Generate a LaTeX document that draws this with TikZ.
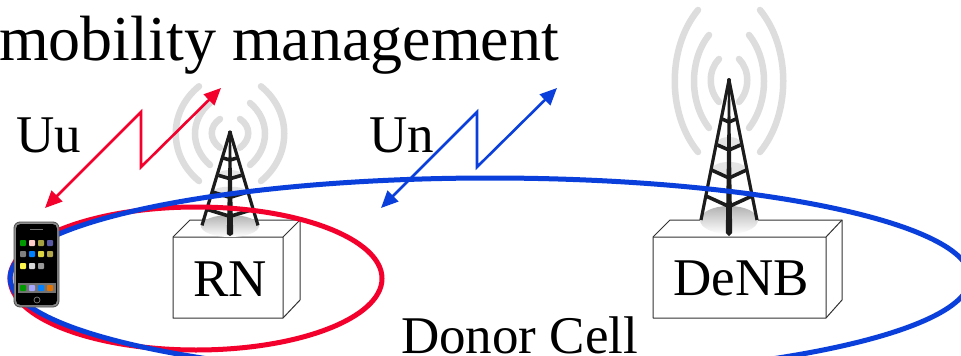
\documentclass[tikz,border=0pt]{standalone}
\usepackage{fontspec}
\setmainfont{Liberation Serif}
\usetikzlibrary{arrows.meta}
\definecolor{myred}{HTML}{F4002D}
\definecolor{myblue}{HTML}{0A3FDC}
\definecolor{wavegray}{HTML}{DDDDDD}
\definecolor{towerblack}{HTML}{1C1C1C}
\tikzset{
  x=1pt,y=-1pt,
  wave/.style={draw=wavegray,line width=6.5pt,line cap=round},
  towerline/.style={draw=towerblack,line width=3.2pt,line join=round},
  boxedge/.style={draw=black!80,line width=1pt,line join=round},
  redlink/.style={draw=myred,line width=2.6pt,line join=miter,{Triangle[length=17pt,width=15pt,fill=myred]}-{Triangle[length=17pt,width=15pt,fill=myred]}},
  bluelink/.style={draw=myblue,line width=2.6pt,line join=miter,{Triangle[length=17pt,width=15pt,fill=myblue]}-{Triangle[length=17pt,width=15pt,fill=myblue]}},
  cell/.style={line width=5pt},
  lab/.style={inner sep=0pt,anchor=base west,text=black},
  icon/.style={inner sep=0pt,minimum size=6pt,rounded corners=0.8pt},
  pics/antenna/.style={code={
    \foreach \s in {-1,1}{
      \draw[wave] (\s*10,-21) .. controls (\s*21,-10) and (\s*21,10) .. (\s*10,22);
      \draw[wave] (\s*20,-45) .. controls (\s*40,-20) and (\s*40,22) .. (\s*20,48);
      \draw[wave] (\s*31,-70) .. controls (\s*62,-32) and (\s*62,34) .. (\s*31,72);
    }
  }},
  pics/mast/.style={code={
    \fill[black!10] (0,62) ellipse[x radius=11,y radius=5];
    \fill[black!10] (0,88) ellipse[x radius=16,y radius=6];
    \draw[towerline] (-28,140) -- (0,0) -- (28,140);
    \fill[towerblack] (-1,3) -- (1,3) -- (3.2,153) -- (0,156) -- (-3.2,153) -- cycle;
    \foreach \yy/\w/\d in {39/7/3,65/11.5/5,90/17.5/8,116/23/10.5}{
      \draw[towerline,line width=3.6pt] (-\w,\yy) -- (0,\yy+\d) -- (\w,\yy);
    }
    \fill[towerblack] (0,0) circle[radius=2pt];
  }}
}
\begin{document}
\begin{tikzpicture}
\useasboundingbox (0,0) rectangle (961,356);
\clip (0,0) rectangle (961,356);
\fill[white] (0,0) rectangle (961,356);

% antennas' waves
\pic[yscale=0.667] at (230,133) {antenna};
\pic at (729,80) {antenna};

% boxes
\coordinate (rnA) at (173,237);
\coordinate (rnB) at (283,237);
\coordinate (rnC) at (283,318);
\coordinate (rnD) at (173,318);
\draw[boxedge,fill=white] (rnA) -- (190,220) -- (300,220) -- (300,300) -- (rnC) -- (rnD) -- cycle;
\draw[boxedge] (rnA) -- (rnB) -- (rnC) (rnB) -- (300,220);
\coordinate (deA) at (653,237);
\coordinate (deB) at (826,237);
\coordinate (deC) at (826,318);
\coordinate (deD) at (653,318);
\draw[boxedge,fill=white] (deA) -- (670,220) -- (842,220) -- (842,300) -- (deC) -- (deD) -- cycle;
\draw[boxedge] (deA) -- (deB) -- (deC) (deB) -- (842,220);

% shadows under masts
\shade[top color=black!30,bottom color=white] (230,226) ellipse[x radius=29,y radius=11];
\shade[top color=black!30,bottom color=white] (729,220) ellipse[x radius=29,y radius=14];

% masts
\pic[yscale=0.667] at (230,132) {mast};
\pic at (729,80) {mast};

% labels
\node[lab,font=\fontsize{64}{70}\selectfont] (title) at (-1,60) {mobility management};
\node[lab,font=\fontsize{53}{60}\selectfont] (uu) at (16,152) {Uu};
\node[lab,font=\fontsize{53}{60}\selectfont] (un) at (369,152) {Un};
\node[lab,font=\fontsize{53}{60}\selectfont] (rn) at (193,296) {RN};
\node[lab,font=\fontsize{53}{60}\selectfont] (denb) at (673,295) {DeNB};
\node[lab,font=\fontsize{53}{60}\selectfont] (donor) at (401,353) {Donor Cell};

% cells
\draw[cell,draw=myred] (196,278.5) ellipse[x radius=186,y radius=71.5];
\draw[cell,draw=myblue] (490,278) ellipse[x radius=480,y radius=100];

% links
\coordinate (uA) at (45,208);
\coordinate (uB) at (141,112);
\coordinate (uC) at (141,167);
\coordinate (uD) at (221,88);
\draw[redlink] (uA) -- (uB) -- (uC) -- (uD);
\coordinate (nA) at (381,208);
\coordinate (nB) at (477,112);
\coordinate (nC) at (477,167);
\coordinate (nD) at (557,88);
\draw[bluelink] (nA) -- (nB) -- (nC) -- (nD);

% phone
\node[draw=black!70,line width=0.8pt,fill=black!45,rounded corners=6pt,minimum width=45pt,minimum height=85pt,inner sep=0pt] (phone) at (36.5,264.5) {};
\node[fill=black,rounded corners=4.5pt,minimum width=41pt,minimum height=81pt,inner sep=0pt] (face) at (36.5,264.5) {};
\fill[black!55] (30,228.5) rectangle (43,230);
\fill[black!55] (17.5,283) rectangle (55.5,293);
\node[icon,fill=green!60!black] at (23,243) {};
\node[icon,fill=red!20!white] at (32,243) {};
\node[icon,fill=yellow!60!black] at (41,243) {};
\node[icon,fill=blue!30!gray] at (50,243) {};
\node[icon,fill=gray] at (23,254) {};
\node[icon,fill=blue!50!cyan] at (32,254) {};
\node[icon,fill=yellow!70!gray] at (41,254) {};
\node[icon,fill=orange!70!cyan] at (50,254) {};
\node[icon,fill=yellow!70!white] at (23,266) {};
\node[icon,fill=white!85!black] at (32,266) {};
\node[icon,fill=gray!80] at (41,266) {};
\node[icon,fill=green!60!black] at (23,288) {};
\node[icon,fill=blue!35!white] at (32,288) {};
\node[icon,fill=blue!50!cyan] at (41,288) {};
\node[icon,fill=orange!90!black] at (50,288) {};
\draw[black!50,line width=0.7pt] (37,300) circle[radius=3pt];
\end{tikzpicture}
\end{document}
